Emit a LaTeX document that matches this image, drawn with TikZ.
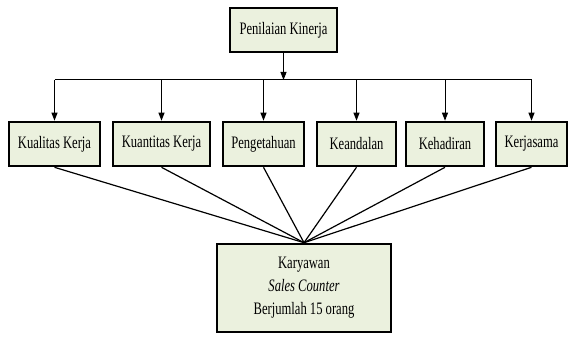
\documentclass[tikz,border=0pt]{standalone}
\usepackage{fontspec}
\setmainfont[FakeStretch=0.72]{Liberation Serif}
\usetikzlibrary{arrows.meta}
\definecolor{isikotak}{RGB}{235,241,222}

\begin{document}
\begin{tikzpicture}[x=1pt,y=-1pt,
    kotak/.style={draw=black, line width=2.6pt, fill=isikotak,
      inner sep=0pt, minimum height=44pt,
      font=\fontsize{17.5}{23}\selectfont},
    panah/.style={line width=1pt, -{Triangle[length=8pt,width=6pt]}}
  ]

    \useasboundingbox (0,0) rectangle (570,339);

    % Top box
    \node[kotak, minimum width=107pt] (nilai) at (283.5,30) {Penilaian Kinerja};

    % Row of indicators
    \node[kotak, minimum width=91pt] (kualitas) at (54.5,144) {Kualitas Kerja};
    \node[kotak, minimum width=97pt] (kuantitas) at (161.5,144) {Kuantitas Kerja};
    \node[kotak, minimum width=81pt] (tahu) at (263.5,144) {Pengetahuan};
    \node[kotak, minimum width=79pt] (andal) at (356.5,144) {Keandalan};
    \node[kotak, minimum width=78pt] (hadir) at (445,144) {Kehadiran};
    \node[kotak, minimum width=71pt] (kerjasama) at (531.5,144) {Kerjasama};

    % Bottom box
    \node[kotak, minimum width=174pt, minimum height=88pt, align=center]
      (karyawan) at (304,288)
      {Karyawan\\ \textit{Sales Counter}\\ Berjumlah 15 orang};

    % Bus line
    \coordinate (bus) at (283.5,80);
    \draw[panah] (nilai.south) -- (nilai.south |- bus);
    \draw[line width=1pt] (kualitas.north |- bus) -- (kerjasama.north |- bus);

    % Arrows to indicators and lines to employees
    \foreach \k in {kualitas,kuantitas,tahu,andal,hadir,kerjasama}
    {
      \draw[panah] (\k.north |- bus) -- (\k.north);
      \draw[line width=1.2pt] (\k.south) -- (karyawan.north);
    }

  \end{tikzpicture}
\end{document}
